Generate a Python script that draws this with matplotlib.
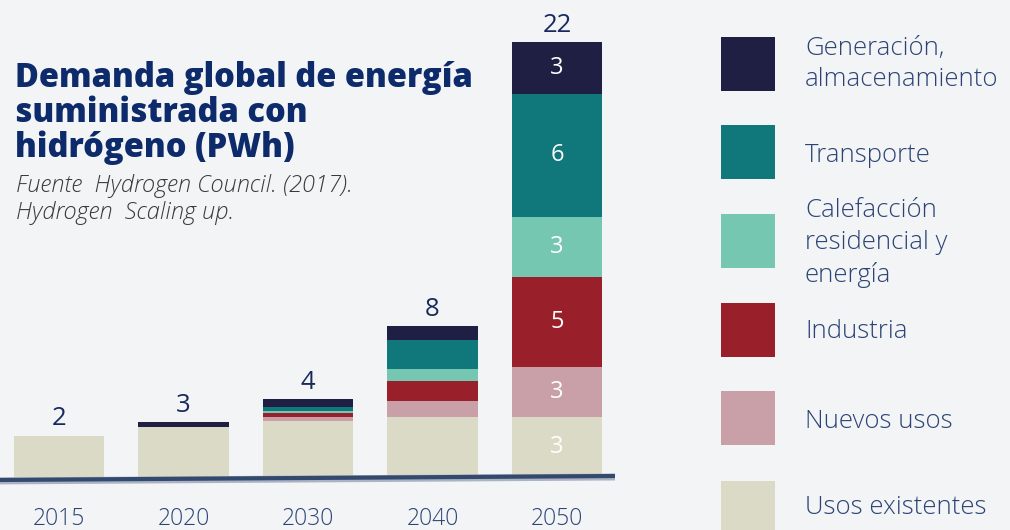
import matplotlib
matplotlib.use("Agg")
import matplotlib.pyplot as plt
import numpy as np

# ---- data ----
years = ["2015", "2020", "2030", "2040", "2050"]
categories = ["Usos existentes", "Nuevos usos", "Industria",
              "Calefacción\nresidencial y\nenergía", "Transporte",
              "Generación,\nalmacenamiento"]
usos_existentes = [2.1, 2.55, 2.85, 3.05, 3.05]
nuevos_usos = [0.0, 0.0, 0.2, 0.8, 2.55]
industria = [0.0, 0.0, 0.2, 1.0, 4.55]
calefaccion = [0.0, 0.0, 0.1, 0.6, 3.05]
transporte = [0.0, 0.0, 0.2, 1.5, 6.2]
generacion = [0.0, 0.22, 0.4, 0.7, 2.65]
total_labels = ["2", "3", "4", "8", "22"]
labels_2050 = ["3", "3", "5", "3", "6", "3"]

colors = ["#dbdac6", "#c9a0a7", "#991f2a", "#76c7b1", "#10777a", "#1f1f43"]
series = [usos_existentes, nuevos_usos, industria, calefaccion, transporte, generacion]

BG = "#f3f4f6"
NAVY_TXT = "#2c4475"
W, H = 1010, 530
fig = plt.figure(figsize=(W / 100, H / 100), dpi=100, facecolor=BG)

# bar axes
ax = fig.add_axes([0, 0, 615 / W, 1])
ax.set_facecolor(BG)
ppu = 19.73
y0 = 53
ax.set_ylim(-y0 / ppu, (H - y0) / ppu)
xstep = 124.5
ax.set_xlim(-59 / xstep, -59 / xstep + 615 / xstep)
ax.axis("off")

x = np.arange(len(years))
bottom = np.zeros(len(years))
for vals, c in zip(series, colors):
    ax.bar(x, vals, width=0.73, bottom=bottom, color=c, linewidth=0, zorder=2)
    bottom += np.array(vals)

# segment labels 2050
b = 0
for vals, lab in zip(series, labels_2050):
    v = vals[-1]
    ax.text(x[-1], b + v / 2, lab, ha="center", va="center", color="white",
            fontsize=17, family="Open Sans", zorder=3)
    b += v

# totals
for xi, tot, lab in zip(x, bottom, total_labels):
    ax.annotate(lab, (xi, tot), xytext=(0, 3), textcoords="offset points",
                ha="center", va="bottom", color="#17295e", fontsize=18.5,
                family="Open Sans")

# year labels
for xi, yr in zip(x, years):
    ax.text(xi, -2.42, yr, ha="center", va="baseline", color=NAVY_TXT,
            fontsize=16.5, family="Open Sans", fontweight="light")

# baseline
xl = ax.get_xlim()
ax.plot([xl[0], xl[1]], [-0.2, 0.0], color="#a9b3c4", lw=5, zorder=4,
        solid_capstyle="butt")
ax.plot([xl[0], xl[1]], [-0.15, 0.05], color="#34496e", lw=3, zorder=5,
        solid_capstyle="butt")

# title
title_lines = ["Demanda global de energía", "suministrada con", "hidrógeno (PWh)"]
for i, t in enumerate(title_lines):
    fig.text(15 / W, 1 - (87 + 35 * i) / H, t, ha="left", va="baseline",
             color="#0d2a6b", fontsize=23.5, family="Open Sans", fontweight="heavy")
sub_lines = ["Fuente  Hydrogen Council. (2017).", "Hydrogen  Scaling up."]
for i, t in enumerate(sub_lines):
    fig.text(16 / W, 1 - (192 + 27 * i) / H, t, ha="left", va="baseline",
             color="#3a3a3a", fontsize=17, family="Open Sans", style="italic",
             fontweight="light")

# legend
leg_tops = [37, 125, 214, 303, 391, 481]
leg_text_y = [64, 155, 243, 332, 421, 508]
for top, ty, c, lab in zip(leg_tops, leg_text_y, colors[::-1], categories[::-1]):
    fig.patches.append(plt.Rectangle((721 / W, 1 - (top + 54) / H), 54 / W, 54 / H,
                                     transform=fig.transFigure, color=c, lw=0))
    fig.text(805 / W, 1 - ty / H, lab, ha="left", va="center", color=NAVY_TXT,
             fontsize=18.5, family="Open Sans", fontweight="light",
             linespacing=1.35)

fig.savefig("out.png", dpi=100, facecolor=BG)
